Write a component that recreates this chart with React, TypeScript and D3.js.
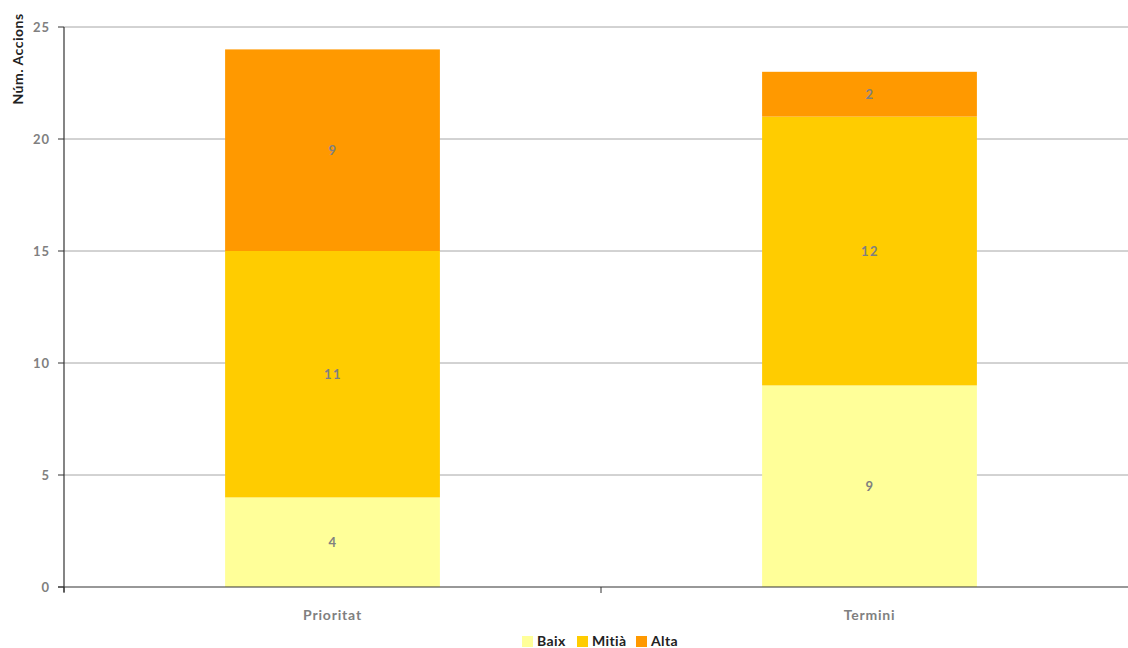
import React from "react";
import * as d3 from "d3";

const categories = ["Prioritat", "Termini"];
const seriesNames = ["Baix", "Mitià", "Alta"];
const baix = [4, 9];
const mitia = [11, 12];
const alta = [9, 2];
const yTicks = [0, 5, 10, 15, 20, 25];
const colors = ["#FFFF99", "#FFCC00", "#FF9900"];

const W = 1128, H = 648;
const left = 64, right = 1138, top = 27, bottom = 587;
const font = "Lato, 'Open Sans', sans-serif";

export default function App() {
  const x = d3.scaleBand<string>().domain(categories).range([left, right]).paddingInner(0).paddingOuter(0);
  const y = d3.scaleLinear().domain([0, 25]).range([bottom, top]);
  const rows = categories.map((c, i) => ({ cat: c, Baix: baix[i], "Mitià": mitia[i], Alta: alta[i] }));
  const stacked = d3.stack<any>().keys(seriesNames)(rows);
  const bw = x.bandwidth() * 0.4;
  const legendX = [522, 577, 636];
  return (
    <svg width={W} height={H} style={{ position: "absolute", left: 0, top: 0, display: "block" }} fontFamily={font}>
      <rect width={W} height={H} fill="#fff" />
      {yTicks.map((t) => (
        <g key={t}>
          {t > 0 && <line x1={left} x2={right} y1={y(t)} y2={y(t)} stroke="#a6a6a6" strokeWidth={1} />}
          <line x1={left - 6} x2={left} y1={y(t)} y2={y(t)} stroke="#333" strokeWidth={1} />
          <text x={left - 14} y={y(t)} dy="0.35em" textAnchor="end" fontSize={13} fontWeight="bold" letterSpacing={1} fill="#808080">{t}</text>
        </g>
      ))}
      {stacked.map((s, si) =>
        s.map((d, i) => {
          const cx = (x(categories[i]) as number) + x.bandwidth() / 2;
          const v = d[1] - d[0];
          return (
            <g key={si + "-" + i}>
              <rect x={cx - bw / 2} y={y(d[1])} width={bw} height={y(d[0]) - y(d[1])} fill={colors[si]} />
              <text x={cx + 0.5} y={(y(d[0]) + y(d[1])) / 2} dy="0.35em" textAnchor="middle" fontSize={13} fontWeight="bold" letterSpacing={1.5} fill="#808080">{v}</text>
            </g>
          );
        })
      )}
      <line x1={left} x2={left} y1={top} y2={bottom + 5} stroke="#333" strokeWidth={1.2} />
      <line x1={left - 6} x2={right} y1={bottom} y2={bottom} stroke="#333" strokeWidth={1.2} />
      {[left, (x(categories[1]) as number), right].map((p, i) => (
        <line key={i} x1={p} x2={p} y1={bottom} y2={bottom + 6} stroke="#333" strokeWidth={1} />
      ))}
      {categories.map((c) => (
        <text key={c} x={(x(c) as number) + x.bandwidth() / 2} y={615} dy="0.35em" textAnchor="middle" fontSize={14} fontWeight="bold" letterSpacing={0.8} fill="#808080">{c}</text>
      ))}
      <text transform={`translate(18,59) rotate(-90)`} textAnchor="middle" dy="0.35em" fontSize={14} fontWeight="bold" letterSpacing={0.5} fill="#222">Núm. Accions</text>
      {seriesNames.map((n, i) => (
        <g key={n}>
          <rect x={legendX[i]} y={636} width={11} height={11} fill={colors[i]} />
          <text x={legendX[i] + 15} y={641} dy="0.35em" fontSize={14} fontWeight="bold" letterSpacing={0.4} fill="#222">{n}</text>
        </g>
      ))}
    </svg>
  );
}
